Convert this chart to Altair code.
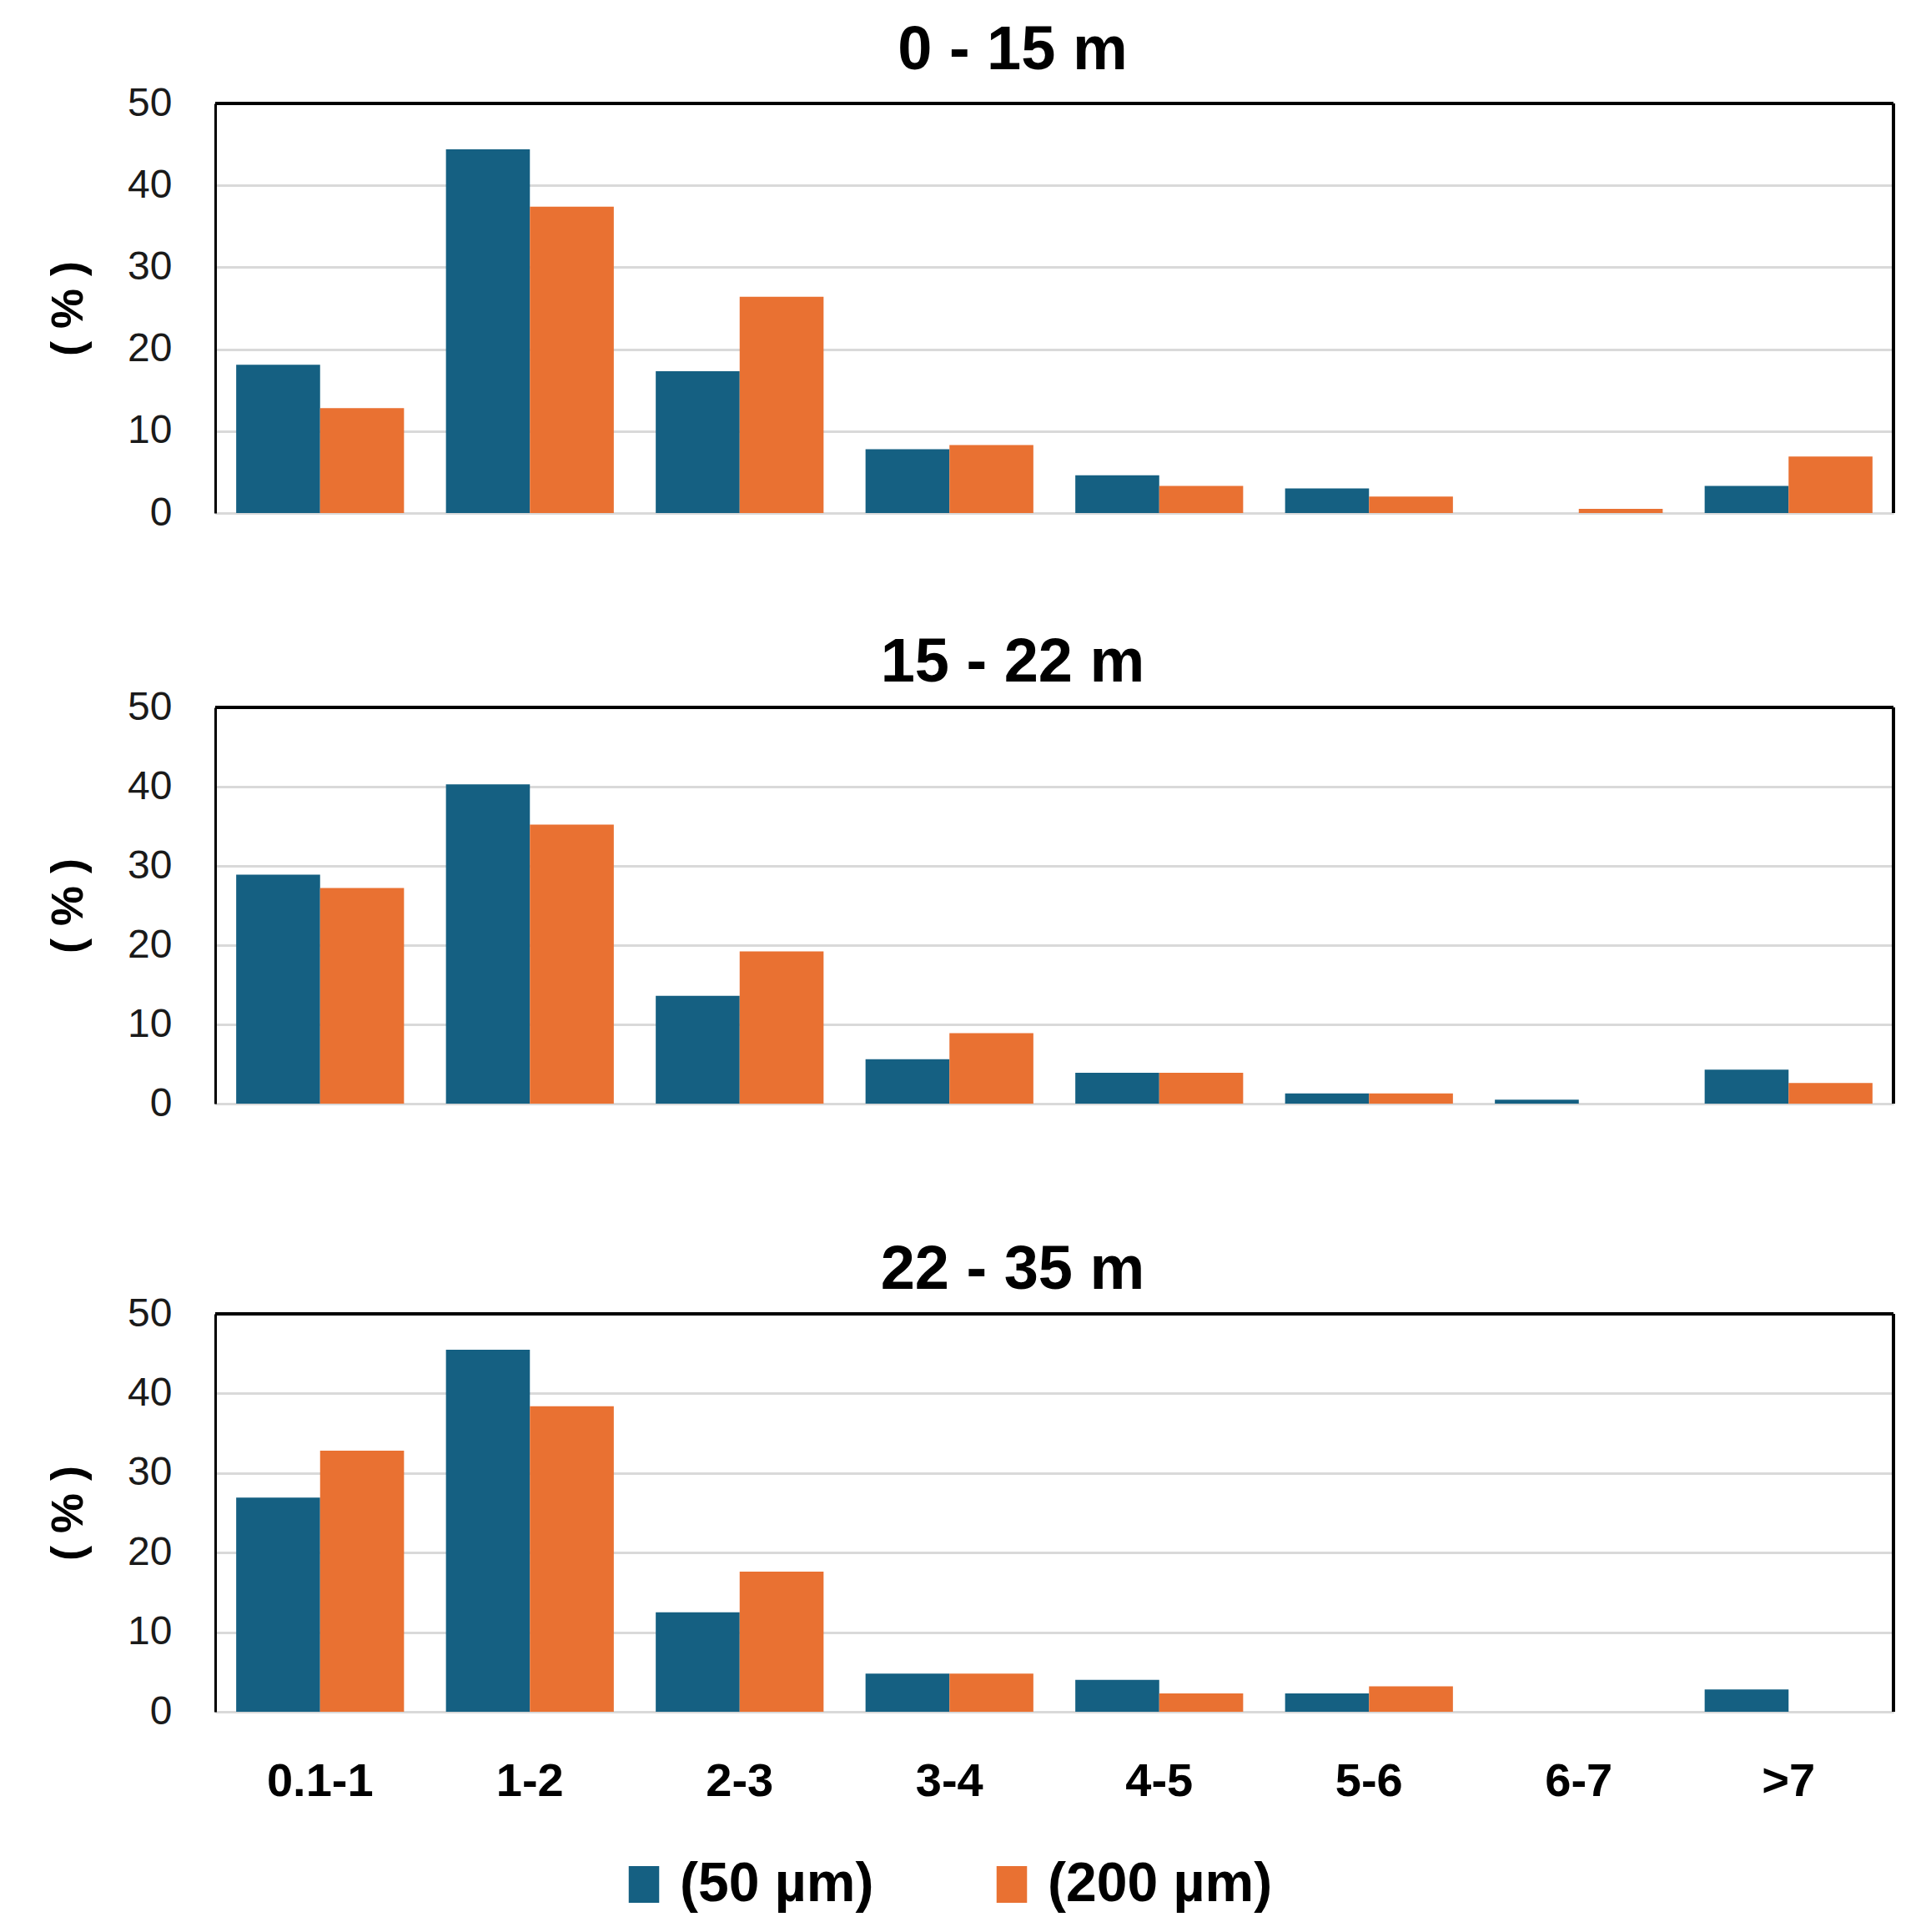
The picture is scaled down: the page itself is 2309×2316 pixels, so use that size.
import altair as alt
import pandas as pd

categories = ["0.1-1", "1-2", "2-3", "3-4", "4-5", "5-6", "6-7", ">7"]
series = ["(50 µm)", "(200 µm)"]
depths = ["0 - 15 m", "15 - 22 m", "22 - 35 m"]

d1_50 = [18.1, 44.4, 17.3, 7.8, 4.6, 3.0, 0.0, 3.3]
d1_200 = [12.8, 37.4, 26.4, 8.3, 3.3, 2.0, 0.5, 6.9]
d2_50 = [28.9, 40.3, 13.6, 5.6, 3.9, 1.3, 0.5, 4.3]
d2_200 = [27.2, 35.2, 19.2, 8.9, 3.9, 1.3, 0.0, 2.6]
d3_50 = [26.9, 45.5, 12.5, 4.8, 4.0, 2.3, 0.0, 2.8]
d3_200 = [32.8, 38.4, 17.6, 4.8, 2.3, 3.2, 0.0, 0.0]

panel_values = [(d1_50, d1_200), (d2_50, d2_200), (d3_50, d3_200)]
colors = ["#156082", "#E97132"]

FONT = "Liberation Sans, Arial, sans-serif"
W = 2012
heights = [491, 475, 477]
title_offsets = [-57, -67, -68]


def make_df(a, b):
    rows = []
    for c, v in zip(categories, a):
        rows.append({"cat": c, "series": series[0], "value": v})
    for c, v in zip(categories, b):
        rows.append({"cat": c, "series": series[1], "value": v})
    return pd.DataFrame(rows)


def panel(i):
    a, b = panel_values[i]
    df = make_df(a, b)
    H = heights[i]
    last = i == 2
    bars = alt.Chart(df).mark_bar().encode(
        x=alt.X(
            "cat:N",
            sort=categories,
            scale=alt.Scale(paddingInner=0.2, paddingOuter=0.1),
            axis=alt.Axis(
                title=None,
                labels=last,
                labelAngle=0,
                labelFont=FONT,
                labelFontSize=56,
                labelFontWeight="bold",
                labelColor="#000000",
                labelPadding=56,
                ticks=False,
                domainColor="#D9D9D9",
                domainWidth=3,
            ),
        ),
        xOffset=alt.XOffset("series:N", sort=series),
        y=alt.Y(
            "value:Q",
            scale=alt.Scale(domain=[0, 50], nice=False),
            axis=alt.Axis(
                title="( % )",
                titleFont=FONT,
                titleFontSize=54,
                titleFontWeight="bold",
                titleColor="#000000",
                titlePadding=43,
                values=[0, 10, 20, 30, 40, 50],
                labelFont=FONT,
                labelFontSize=48,
                labelColor="#1a1a1a",
                labelPadding=52,
                ticks=False,
                grid=True,
                gridColor="#D9D9D9",
                gridWidth=3,
                domainColor="#000000",
                domainWidth=3,
            ),
        ),
        color=alt.Color(
            "series:N",
            sort=series,
            scale=alt.Scale(domain=series, range=colors),
            legend=alt.Legend(
                title=None,
                orient="none",
                direction="horizontal",
                legendX=481,
                legendY=2102,
                symbolType="M-0.83,-1H0.83V1H-0.83Z",
                symbolSize=1936,
                symbolStrokeWidth=0,
                symbolOpacity=1,
                labelFont=FONT,
                labelFontSize=66,
                labelFontWeight="bold",
                labelColor="#000000",
                labelLimit=500,
                labelOffset=10,
                columnPadding=132,
            ),
        ),
    )
    top_rule = alt.Chart(df).mark_rule(color="#000000", strokeWidth=3).encode(
        x=alt.value(0), x2=alt.value(W), y=alt.value(0)
    )
    right_rule = alt.Chart(df).mark_rule(color="#000000", strokeWidth=3).encode(
        x=alt.value(W), y=alt.value(0), y2=alt.value(H)
    )
    return alt.layer(bars, top_rule, right_rule).properties(
        width=W,
        height=H,
        title=alt.TitleParams(
            depths[i],
            font=FONT,
            fontSize=74,
            fontWeight="bold",
            color="#000000",
            anchor="middle",
            frame="group",
            baseline="alphabetic",
            offset=title_offsets[i],
            dx=-50,
        ),
    )


top_two = alt.vconcat(panel(0), panel(1), spacing=119)
chart = alt.vconcat(top_two, panel(2), spacing=139).properties(
    padding={"left": 55, "top": 24, "right": 30, "bottom": 30},
    background="#ffffff",
).configure_view(stroke=None)

chart.save("out.html", embed_options={"renderer": "svg", "actions": False})
